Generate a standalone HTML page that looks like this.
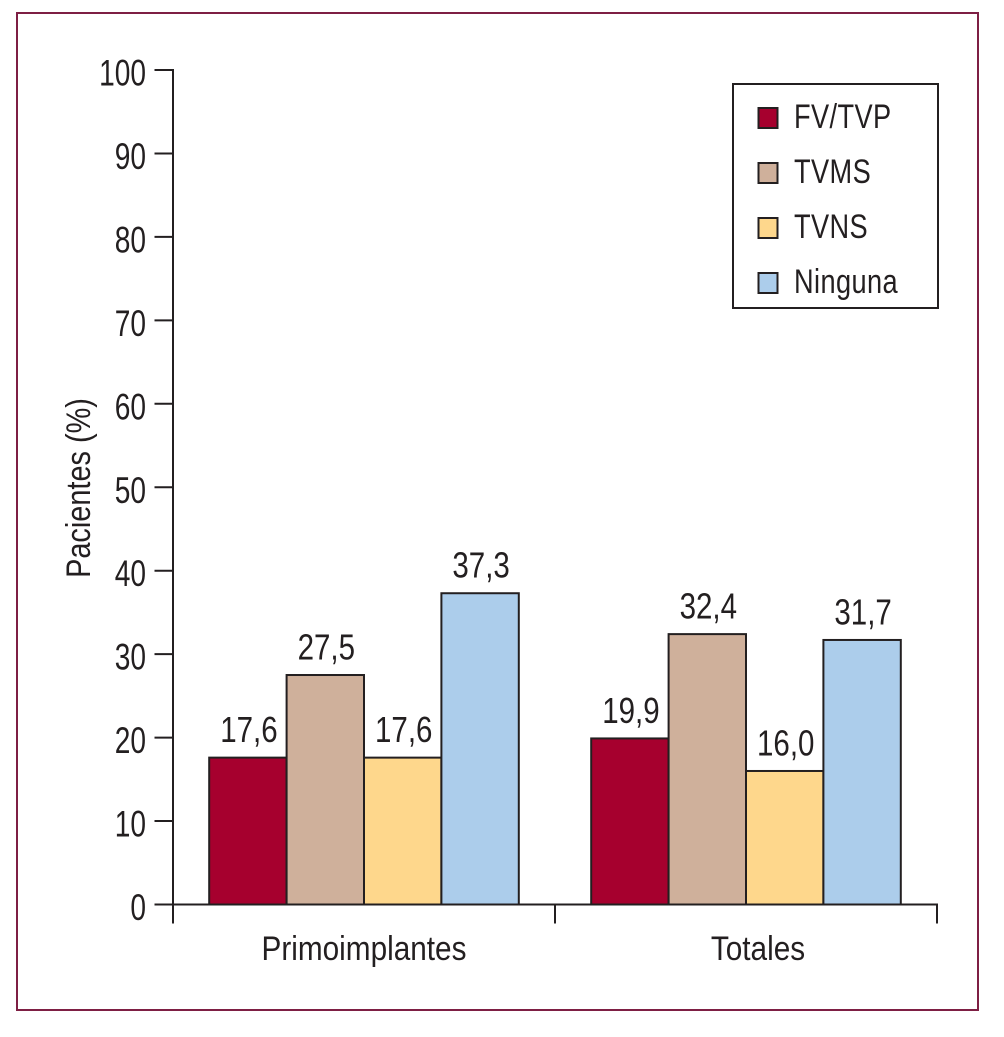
<!DOCTYPE html>
<html lang="es">
<head>
<meta charset="utf-8">
<title>Pacientes (%)</title>
<style>
html,body{margin:0;padding:0;background:#fff;}
body{width:1004px;height:1037px;overflow:hidden;}
svg{display:block;}
text{font-family:"Liberation Sans",sans-serif;fill:#231f20;}
</style>
</head>
<body>
<svg id="chart" width="1004" height="1037" viewBox="0 0 1004 1037" xmlns="http://www.w3.org/2000/svg">
<rect x="17" y="13" width="961" height="997" fill="#fff" stroke="#7e1f44" stroke-width="2"/>
</svg>
<script>
const categories = ['Primoimplantes', 'Totales'];
const seriesNames = ['FV/TVP', 'TVMS', 'TVNS', 'Ninguna'];
const fvTvpValues = [17.6, 19.9];
const tvmsValues = [27.5, 32.4];
const tvnsValues = [17.6, 16.0];
const ningunaValues = [37.3, 31.7];
const yTicks = [0, 10, 20, 30, 40, 50, 60, 70, 80, 90, 100];
const seriesColors = ['#a6002e', '#cfb09b', '#fed78c', '#accdeb'];

const svg = document.getElementById('chart');
const NS = 'http://www.w3.org/2000/svg';
const allSeries = [fvTvpValues, tvmsValues, tvnsValues, ningunaValues];
const INK = '#231f20';
const plot = {left: 173, right: 937, top: 70, bottom: 904.5};
const barWidth = 77.4;

function yScale(v) {
  return plot.bottom - (v / 100) * (plot.bottom - plot.top);
}
function categoryLeft(i) {
  return plot.left + i * (plot.right - plot.left) / categories.length;
}
function categoryCenter(i) {
  return categoryLeft(i) + (plot.right - plot.left) / categories.length / 2;
}
function barX(catIndex, seriesIndex) {
  return categoryCenter(catIndex) - barWidth * allSeries.length / 2 + seriesIndex * barWidth;
}
function line(x1, y1, x2, y2, w) {
  const el = document.createElementNS(NS, 'line');
  el.setAttribute('x1', x1);
  el.setAttribute('y1', y1);
  el.setAttribute('x2', x2);
  el.setAttribute('y2', y2);
  el.setAttribute('stroke', INK);
  el.setAttribute('stroke-width', w || 2);
  svg.appendChild(el);
  return el;
}
function label(str, x, y, size, sx, anchor, rotate, spacing) {
  const el = document.createElementNS(NS, 'text');
  el.textContent = str;
  el.setAttribute('font-size', size);
  el.setAttribute('text-anchor', anchor);
  if (spacing) {
    el.setAttribute('letter-spacing', spacing);
  }
  const rot = rotate ? ' rotate(' + rotate + ')' : '';
  el.setAttribute('transform', 'translate(' + x + ',' + y + ')' + rot + ' scale(' + sx + ',1)');
  svg.appendChild(el);
  return el;
}
function formatValue(v) {
  return v.toFixed(1).replace('.', ',');
}

/* bars */
allSeries.forEach(function (values, s) {
  values.forEach(function (v, c) {
    const bar = document.createElementNS(NS, 'rect');
    
    
    bar.setAttribute('x', barX(c, s));
    bar.setAttribute('y', yScale(v));
    bar.setAttribute('width', barWidth);
    bar.setAttribute('height', plot.bottom - yScale(v));
    bar.setAttribute('fill', seriesColors[s]);
    bar.setAttribute('stroke', INK);
    bar.setAttribute('stroke-width', 2);
    svg.appendChild(bar);

    const valueLabel = label(formatValue(v), barX(c, s) + barWidth / 2 + 1, yScale(v) - 15.5, 36, 0.82, 'middle');
    
    
  });
});

/* y axis */
const yAxis = line(plot.left, plot.top - 1, plot.left, plot.bottom + 19);


yTicks.forEach(function (t) {
  const tick = line(154.5, yScale(t), plot.left, yScale(t));
  
  
  const tickLabel = label(String(t), 146, yScale(t) + 15.5, 37, 0.76, 'end');
  
  
});

/* x axis */
const xAxis = line(154.5, plot.bottom, plot.right + 1, plot.bottom);


categories.forEach(function (name, i) {
  const tick = line(categoryLeft(i + 1), plot.bottom, categoryLeft(i + 1), plot.bottom + 19);
  
  
  const catLabel = label(name, categoryCenter(i) + (i === 1 ? 12 : 0), 960, 34, 0.875, 'middle');
  
  
});
const midTick = line(plot.left, plot.bottom, plot.left, plot.bottom + 19);



/* y title */
const yTitle = label('Pacientes (%)', 90, 488, 34, 0.85, 'middle', -90);



/* legend */
const legendBox = document.createElementNS(NS, 'rect');


legendBox.setAttribute('x', 733);
legendBox.setAttribute('y', 84);
legendBox.setAttribute('width', 205);
legendBox.setAttribute('height', 224);
legendBox.setAttribute('fill', '#fff');
legendBox.setAttribute('stroke', INK);
legendBox.setAttribute('stroke-width', 2);
svg.appendChild(legendBox);

seriesNames.forEach(function (name, i) {
  const rowY = 128 + i * 55;
  const swatch = document.createElementNS(NS, 'rect');
  
  
  swatch.setAttribute('x', 758.5);
  swatch.setAttribute('y', rowY - 20);
  swatch.setAttribute('width', 19);
  swatch.setAttribute('height', 20);
  swatch.setAttribute('fill', seriesColors[i]);
  swatch.setAttribute('stroke', INK);
  swatch.setAttribute('stroke-width', 2);
  svg.appendChild(swatch);
  const entry = label(name, 794, rowY, 34, 0.8, 'start', 0, 0.5);
  
  
});
</script>
</body>
</html>
